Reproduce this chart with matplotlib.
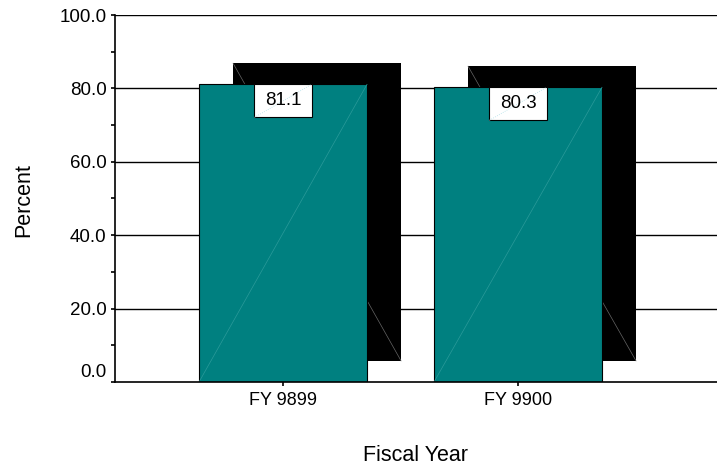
import numpy as np
import matplotlib
matplotlib.use('Agg')
from matplotlib import pyplot as plt
from matplotlib.patches import Rectangle
from matplotlib.transforms import ScaledTranslation

plt.rcParams['font.family'] = ['Liberation Sans', 'DejaVu Sans']

# data
years = ['FY 9899', 'FY 9900']
pct = [81.1, 80.3]
yticks = [0, 20, 40, 60, 80, 100]

teal = '#008080'
w = 0.715          # bar width
dx, dy = 0.145, 5.75  # shadow offset

fig = plt.figure(figsize=(7.17, 4.72), dpi=100)
ax = fig.add_axes([0.1604, 0.1907, 0.8396, 0.7775])

x = np.arange(len(years))

# gridlines behind
for t in yticks[1:]:
    ax.axhline(t, color='black', lw=1.0, zorder=1)

# shadow
ax.bar(x + dx, pct, width=w, bottom=dy, color='black', zorder=2)
for xi, v in zip(x, pct):
    ax.plot([xi + dx - w/2, xi + dx + w/2], [dy + v, dy], color='#666666', lw=0.5, zorder=2.5)

# teal bars
ax.bar(x, pct, width=w, color=teal, edgecolor='black', lw=0.8, zorder=3)
for xi, v in zip(x, pct):
    ax.plot([xi - w/2, xi + w/2], [0, v], color='#2b9a9a', lw=0.5, zorder=3.5)

# value boxes
bw, bh = 0.243, 9.0
for xi, v in zip(x, pct):
    ax.add_patch(Rectangle((xi - bw/2, v - bh), bw, bh, facecolor='white',
                           edgecolor='black', lw=0.8, zorder=4))
    ax.plot([xi - bw/2, xi + bw/2], [v - bh, v], color='#b0e0e8', lw=0.6, ls=':', zorder=4.2)
    ax.text(xi, v - bh/2, '%.1f' % v, ha='center', va='center', fontsize=13.5, zorder=5)

ax.set_xlim(-0.715, 1.847)
ax.set_ylim(0, 100)
ax.set_xticks(x)
ax.set_xticklabels(years, fontsize=13)
ax.set_yticks(yticks)
ax.set_yticklabels(['%.1f' % t for t in yticks], fontsize=13.5)
ax.set_yticks([10, 30, 50, 70, 90], minor=True)
ax.tick_params(axis='y', which='both', direction='out', length=3, width=1.2, pad=3)
ax.tick_params(axis='x', direction='out', length=3, width=1.2, pad=4)

# the 0.0 label sits a bit above its tick
lab0 = ax.get_yticklabels()[0]
lab0.set_transform(lab0.get_transform() + ScaledTranslation(0, 0.11, fig.dpi_scale_trans))

for s in ['top', 'right']:
    ax.spines[s].set_visible(False)
ax.spines['left'].set_linewidth(1.2)
ax.spines['bottom'].set_linewidth(1.2)
ax.spines['left'].set_zorder(6)
ax.spines['bottom'].set_zorder(6)

fig.text(0.033, 0.576, 'Percent', rotation=90, ha='center', va='center', fontsize=15.5)
fig.text(0.58, 0.036, 'Fiscal Year', ha='center', va='center', fontsize=15.5)

fig.savefig('out.png', dpi=100)
